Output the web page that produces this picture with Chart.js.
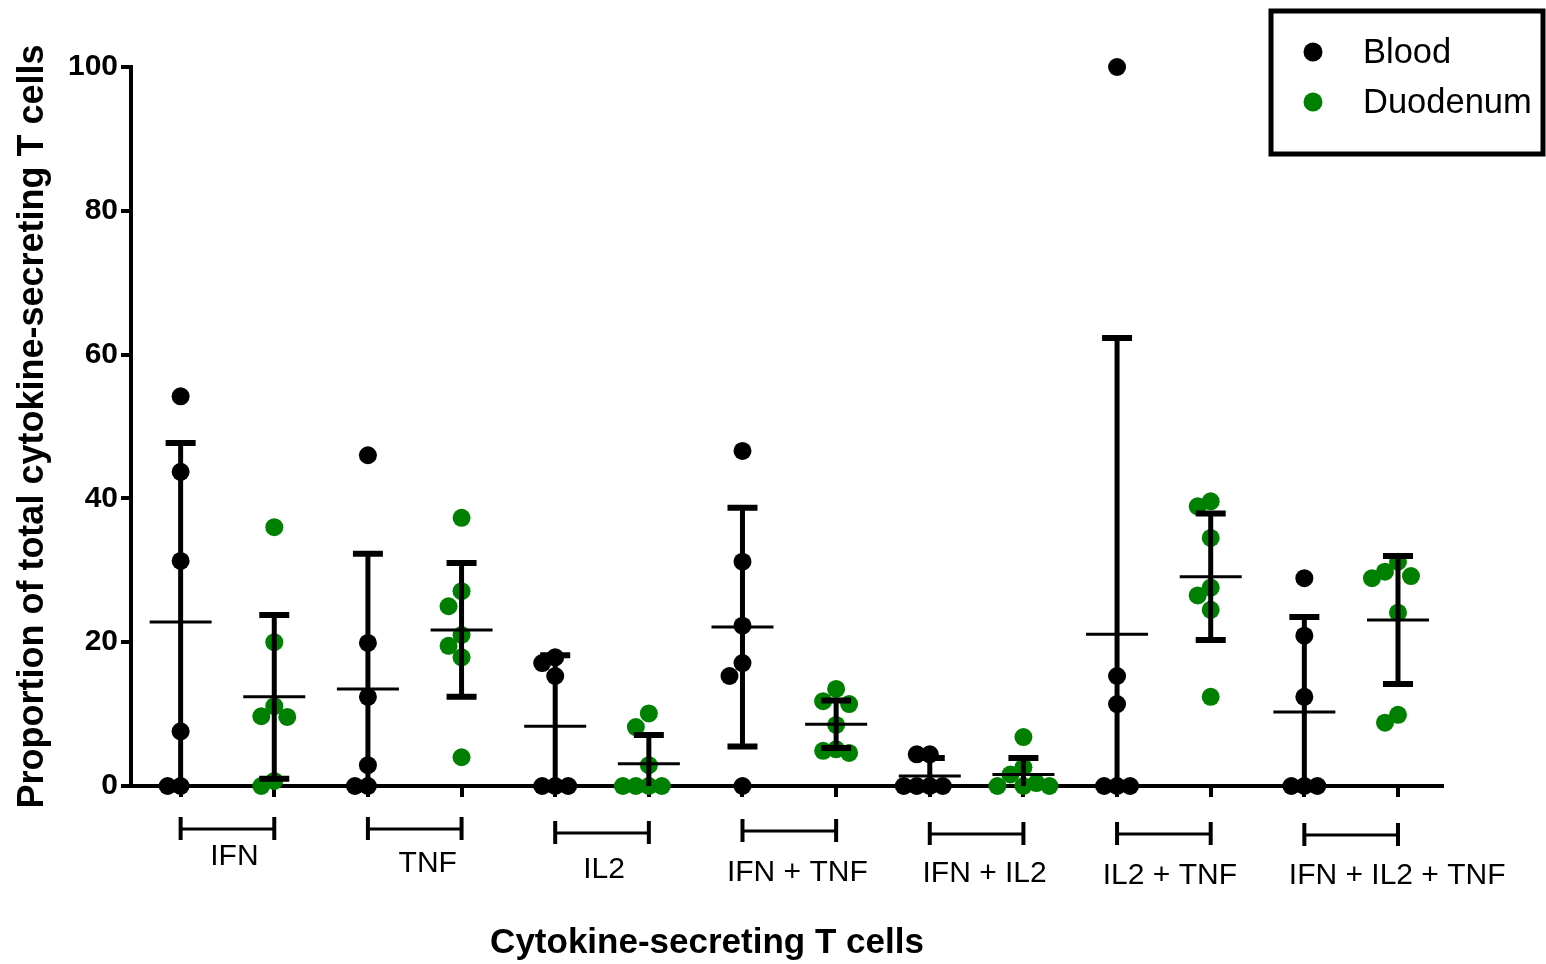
<!DOCTYPE html>
<html>
<head>
<meta charset="utf-8">
<script src="https://cdn.jsdelivr.net/npm/chart.js@4.4.1/dist/chart.umd.min.js"></script>
<style>
  html, body { margin: 0; padding: 0; background: #fff; }
  canvas { display: block; }
</style>
</head>
<body>
<canvas id="cytoChart" width="1546" height="964"></canvas>
<script>
const categories = ['IFN', 'TNF', 'IL2', 'IFN + TNF', 'IFN + IL2', 'IL2 + TNF', 'IFN + IL2 + TNF'];
const seriesNames = ['Blood', 'Duodenum'];
const seriesColors = ['#000000', '#008000'];

// individual values per category
const bloodValues = [
  [54.2, 43.7, 31.3, 7.6, 0, 0],
  [46.0, 19.9, 12.4, 2.9, 0, 0],
  [17.9, 17.1, 15.3, 0, 0, 0],
  [46.6, 31.2, 22.3, 17.1, 15.3, 0],
  [4.4, 4.4, 0, 0, 0, 0],
  [100, 15.3, 11.4, 0, 0, 0],
  [28.9, 20.9, 12.4, 0, 0, 0]
];
const duodenumValues = [
  [36.0, 20.0, 11.1, 9.7, 9.6, 0.7, 0],
  [37.3, 27.1, 25.0, 21.0, 19.5, 17.9, 4.0],
  [10.1, 8.2, 2.9, 0, 0, 0, 0],
  [13.5, 11.8, 11.4, 8.5, 5.1, 4.9, 4.6],
  [6.8, 2.6, 1.6, 0.4, 0, 0, 0],
  [39.6, 38.9, 34.5, 27.6, 26.5, 24.5, 12.4],
  [31.2, 29.8, 29.2, 28.9, 24.1, 9.9, 8.8]
];

// mean and SD bars
const bloodMean = [22.8, 13.5, 8.3, 22.1, 1.4, 21.1, 10.3];
const bloodSD = [24.9, 18.8, 9.9, 16.6, 2.5, 41.2, 13.2];
const duodenumMean = [12.4, 21.7, 3.1, 8.6, 1.6, 29.1, 23.1];
const duodenumSD = [11.4, 9.3, 4.0, 3.3, 2.3, 8.8, 8.9];

const yTicks = [0, 20, 40, 60, 80, 100];

const FONT = "'Liberation Sans', Arial, sans-serif";

// layout is fixed, so px per unit is known
const PX_X = (1442 - 131) / 14;
const PX_Y = (786 - 67) / 100;
const STEP = 13;

// simple beeswarm so equal values sit side by side
function swarm(values, centre) {
  const placed = [];
  return values.slice().sort((a, b) => b - a).map(v => {
    let k = 0;
    for (let i = 0; i < 11; i++) {
      const off = i === 0 ? 0 : (i % 2 ? -1 : 1) * Math.ceil(i / 2);
      const free = placed.every(p => Math.hypot((off - p.off) * STEP * 1.35, (v - p.v) * PX_Y) >= 17);
      if (free) { k = off; break; }
    }
    placed.push({ v: v, off: k });
    return { x: centre + k * STEP / PX_X, y: v };
  });
}

const bloodPoints = bloodValues.flatMap((vals, i) => swarm(vals, 2 * i));
const duodenumPoints = duodenumValues.flatMap((vals, i) => swarm(vals, 2 * i + 1));

const errorBars = {
  id: 'errorBars',
  afterDatasetsDraw(chart) {
    const { ctx, chartArea, scales: { x, y } } = chart;
    ctx.save();
    ctx.beginPath();
    ctx.rect(0, 0, chart.width, chartArea.bottom);
    ctx.clip();
    ctx.strokeStyle = '#000';
    const groups = [[bloodMean, bloodSD, 0], [duodenumMean, duodenumSD, 1]];
    groups.forEach(([means, sds, s]) => {
      means.forEach((m, i) => {
        const cx = x.getPixelForValue(2 * i + s);
        const top = y.getPixelForValue(m + sds[i]);
        const bot = y.getPixelForValue(m - sds[i]);
        const my = y.getPixelForValue(m);
        ctx.lineWidth = 5;
        ctx.beginPath();
        ctx.moveTo(cx, top);
        ctx.lineTo(cx, Math.min(bot, chartArea.bottom));
        ctx.stroke();
        ctx.lineWidth = 6;
        ctx.beginPath();
        ctx.moveTo(cx - 15, top); ctx.lineTo(cx + 15, top);
        ctx.moveTo(cx - 15, bot); ctx.lineTo(cx + 15, bot);
        ctx.stroke();
        ctx.lineWidth = 3;
        ctx.beginPath();
        ctx.moveTo(cx - 31, my); ctx.lineTo(cx + 31, my);
        ctx.stroke();
      });
    });
    ctx.restore();
  }
};

// brackets, category names, x title and legend
const bracketY = [829, 829, 833, 831, 834, 834, 835];
const labelBase = [865, 872, 878, 881, 882, 884, 884];
const labelShift = [7, 13, 2, 8, 8, 6, 46];

const extras = {
  id: 'extras',
  afterDraw(chart) {
    const { ctx, scales: { x } } = chart;
    ctx.save();
    ctx.strokeStyle = '#000';
    ctx.fillStyle = '#000';
    categories.forEach((name, i) => {
      const x1 = x.getPixelForValue(2 * i);
      const x2 = x.getPixelForValue(2 * i + 1);
      const by = bracketY[i];
      ctx.lineWidth = 3;
      ctx.beginPath();
      ctx.moveTo(x1, by); ctx.lineTo(x2, by);
      ctx.stroke();
      ctx.lineWidth = 4;
      ctx.beginPath();
      ctx.moveTo(x1, by - 12); ctx.lineTo(x1, by + 11);
      ctx.moveTo(x2, by - 12); ctx.lineTo(x2, by + 11);
      ctx.stroke();
      ctx.font = '30px ' + FONT;
      ctx.textAlign = 'center';
      ctx.textBaseline = 'alphabetic';
      ctx.fillText(name, (x1 + x2) / 2 + labelShift[i], labelBase[i]);
    });

    ctx.font = 'bold 35px ' + FONT;
    ctx.textAlign = 'center';
    ctx.fillText('Cytokine-secreting T cells', 707, 953);

    // legend box
    ctx.lineWidth = 5;
    ctx.strokeRect(1271, 11, 272, 143);
    ctx.font = '34.5px ' + FONT;
    ctx.textAlign = 'left';
    ctx.textBaseline = 'middle';
    seriesNames.forEach((name, i) => {
      const cy = 52 + i * 50;
      ctx.fillStyle = seriesColors[i];
      ctx.beginPath();
      ctx.arc(1313, cy, 9.5, 0, Math.PI * 2);
      ctx.fill();
      ctx.fillStyle = '#000';
      ctx.fillText(name, 1363, cy + 1);
    });
    ctx.restore();
  }
};

const ctx = document.getElementById('cytoChart').getContext('2d');
const chart = new Chart(ctx, {
  type: 'scatter',
  data: {
    datasets: [
      { label: seriesNames[0], data: bloodPoints, backgroundColor: seriesColors[0], borderWidth: 0, pointRadius: 9, clip: false },
      { label: seriesNames[1], data: duodenumPoints, backgroundColor: seriesColors[1], borderWidth: 0, pointRadius: 9, clip: false }
    ]
  },
  options: {
    responsive: false,
    animation: false,
    devicePixelRatio: 1,
    layout: { padding: { top: 67, right: 104, bottom: 0, left: 0 } },
    scales: {
      x: {
        type: 'linear',
        min: -0.53,
        max: 13.47,
        afterBuildTicks: s => { s.ticks = categories.flatMap((c, i) => [{ value: 2 * i }, { value: 2 * i + 1 }]); },
        afterFit: s => { s.height = 178; },
        ticks: { display: false },
        grid: { drawOnChartArea: false, drawTicks: true, tickLength: 11, color: '#000', lineWidth: 4 },
        border: { display: true, color: '#000', width: 4, dash: [5, 1] }
      },
      y: {
        min: 0,
        max: 100,
        afterBuildTicks: s => { s.ticks = yTicks.map(v => ({ value: v })); },
        afterFit: s => { s.width = 131; },
        ticks: { color: '#000', padding: 3, font: { family: FONT, weight: 'bold', size: 30 } },
        grid: { drawOnChartArea: false, drawTicks: true, tickLength: 10, color: '#000', lineWidth: 4 },
        border: { display: true, color: '#000', width: 4, dash: [5, 1] },
        title: {
          display: true,
          text: 'Proportion of total cytokine-secreting T cells',
          color: '#000',
          font: { family: FONT, weight: 'bold', size: 36, lineHeight: 1 },
          padding: { top: 15, bottom: 0 }
        }
      }
    },
    plugins: {
      legend: { display: false },
      tooltip: { enabled: false }
    }
  },
  plugins: [errorBars, extras]
});
</script>
</body>
</html>
